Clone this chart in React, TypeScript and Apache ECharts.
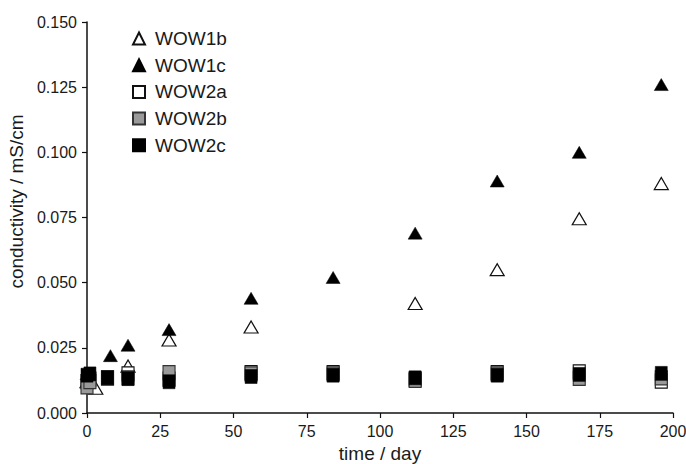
import React, { useEffect, useRef } from "react";
import * as echarts from "echarts";

const xTicks = [0, 25, 50, 75, 100, 125, 150, 175, 200];
const yTicks = [0, 0.025, 0.05, 0.075, 0.1, 0.125, 0.15];

const days1b = [0, 3, 14, 28, 56, 112, 140, 168, 196];
const wow1b = [0.012, 0.0095, 0.018, 0.028, 0.033, 0.042, 0.055, 0.0745, 0.088];

const days1c = [0, 8, 14, 28, 56, 84, 112, 140, 168, 196];
const wow1c = [0.015, 0.022, 0.026, 0.032, 0.044, 0.052, 0.069, 0.089, 0.1, 0.126];

const days2 = [0, 1, 7, 14, 28, 56, 84, 112, 140, 168, 196];
const wow2a = [0.012, 0.013, 0.0135, 0.015, 0.013, 0.0155, 0.0155, 0.013, 0.0155, 0.0158, 0.0122];
const wow2b = [0.01, 0.012, 0.0135, 0.0135, 0.0155, 0.015, 0.015, 0.0125, 0.015, 0.0133, 0.0135];
const wow2c = [0.0145, 0.015, 0.0135, 0.0132, 0.012, 0.014, 0.0145, 0.0135, 0.0145, 0.0148, 0.0152];

const pair = (xs: number[], ys: number[]) => xs.map((x, i) => [x, ys[i]]);

export default function App() {
  const ref = useRef<HTMLDivElement>(null);
  useEffect(() => {
    const chart = echarts.init(ref.current!, null, { renderer: "svg" });
    const font = "Liberation Sans, Arial, sans-serif";
    const txt = "#1a1a1a";
    const tri = { symbol: "triangle", symbolSize: [14, 12] };
    const sq = { symbol: "rect", symbolSize: [12, 14] };
    chart.setOption({
      animation: false,
      backgroundColor: "#ffffff",
      textStyle: { fontFamily: font },
      grid: { left: 87, right: 13, top: 22, bottom: 51, containLabel: false, outerBoundsMode: "none" },
      legend: {
        orient: "vertical",
        left: 127,
        top: 24,
        itemWidth: 12,
        itemHeight: 12,
        itemGap: 7.7,
        textStyle: { fontSize: 19, lineHeight: 19, color: txt, fontFamily: font, padding: [0, 0, 0, 5] },
        data: ["WOW1b", "WOW1c", "WOW2a", "WOW2b", "WOW2c"],
      },
      xAxis: {
        type: "value",
        min: 0,
        max: 200,
        interval: 25,
        name: "time / day",
        nameLocation: "middle",
        nameGap: 29,
        nameTextStyle: { fontSize: 19, lineHeight: 19, color: txt },
        axisLine: { show: true, lineStyle: { color: "#111", width: 1.5 } },
        axisTick: { show: true, length: 5, lineStyle: { color: "#111", width: 1.2 } },
        axisLabel: { fontSize: 16, color: txt, margin: 10 },
        splitLine: { show: false },
      },
      yAxis: {
        type: "value",
        min: 0,
        max: 0.15,
        interval: 0.025,
        name: "conductivity / mS/cm",
        nameLocation: "middle",
        nameGap: 56,
        nameTextStyle: { fontSize: 19, color: txt, padding: [0, 0, 0, 32] },
        axisLine: { show: true, lineStyle: { color: "#111", width: 1.5 } },
        axisTick: { show: true, length: 5, lineStyle: { color: "#111", width: 1.2 } },
        axisLabel: { fontSize: 16, color: txt, margin: 10, formatter: (v: number) => v.toFixed(3) },
        splitLine: { show: false },
      },
      series: [
        {
          name: "WOW1b", type: "scatter", ...tri, data: pair(days1b, wow1b),
          itemStyle: { color: "#ffffff", borderColor: "#111", borderWidth: 1.2, opacity: 1 },
        },
        {
          name: "WOW1c", type: "scatter", ...tri, data: pair(days1c, wow1c),
          itemStyle: { color: "#000000", borderColor: "#000", borderWidth: 0.5, opacity: 1 },
        },
        {
          name: "WOW2a", type: "scatter", ...sq, data: pair(days2, wow2a),
          itemStyle: { color: "#ffffff", borderColor: "#111", borderWidth: 1.2, opacity: 1 },
        },
        {
          name: "WOW2b", type: "scatter", ...sq, data: pair(days2, wow2b),
          itemStyle: { color: "#9a9a9a", borderColor: "#333", borderWidth: 1.2, opacity: 1 },
        },
        {
          name: "WOW2c", type: "scatter", ...sq, data: pair(days2, wow2c),
          itemStyle: { color: "#000000", borderColor: "#000", borderWidth: 0.5, opacity: 1 },
        },
      ],
    });
    return () => chart.dispose();
  }, []);
  return <div ref={ref} style={{ width: 686, height: 464, position: "absolute", left: 0, top: 0 }} />;
}
